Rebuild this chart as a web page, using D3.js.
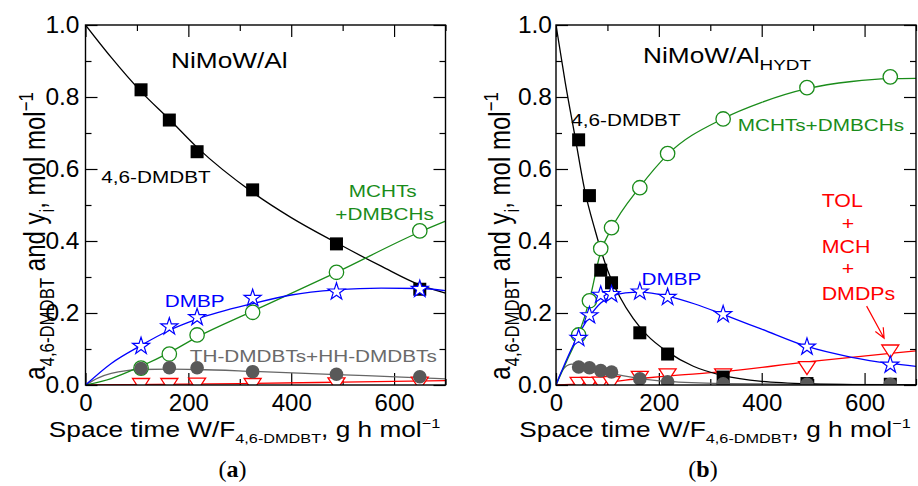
<!DOCTYPE html>
<html><head><meta charset="utf-8">
<script src="https://cdn.jsdelivr.net/npm/d3@7"></script>
<style>body{margin:0;background:#fff}svg{display:block}</style>
</head><body>
<svg id="c" width="918" height="486"></svg>
<script>
// ---------- data ----------
const xMajorTicks = [0, 200, 400, 600];
const xMinorTicks = [100, 300, 500, 700];
const yMajorTicks = [0.0, 0.2, 0.4, 0.6, 0.8, 1.0];
const yMinorTicks = [0.1, 0.3, 0.5, 0.7, 0.9];
const yTickLabels = ["0.0", "0.2", "0.4", "0.6", "0.8", "1.0"];

// panel (a) NiMoW/Al
const spaceTimeA = [108, 163, 217, 325, 488, 650];
const dmdbtA = [0.820, 0.736, 0.648, 0.542, 0.392, 0.266];
const mchtA  = [0.047, 0.086, 0.139, 0.202, 0.313, 0.428];
const dmbpA  = [0.108, 0.162, 0.188, 0.241, 0.259, 0.266];
const thhhA  = [0.046, 0.048, 0.048, 0.037, 0.030, 0.023];
const tolA   = [0.000, 0.000, 0.001, 0.000, 0.002, 0.004];
// fitted curves
const fitDmdbtA = [[0,1],[50,0.91],[108,0.815],[163,0.738],[217,0.66],[325,0.535],[400,0.465],[488,0.395],[575,0.33],[650,0.278],[700,0.255]];
const fitMchtA  = [[0,0],[50,0.018],[108,0.052],[163,0.09],[217,0.133],[325,0.205],[488,0.313],[650,0.425],[700,0.455]];
const fitDmbpA  = [[0,0],[50,0.06],[108,0.11],[163,0.152],[217,0.183],[325,0.226],[400,0.25],[488,0.264],[575,0.269],[650,0.268],[700,0.262]];
const fitThhhA  = [[0,0],[25,0.02],[50,0.032],[80,0.04],[108,0.043],[163,0.044],[217,0.043],[325,0.038],[488,0.029],[650,0.02],[700,0.017]];
const fitTolA   = [[0,0],[300,0.004],[500,0.008],[700,0.012]];

// panel (b) NiMoW/Al_HYDT
const spaceTimeB = [44, 65, 87, 108, 163, 217, 325, 488, 650];
const dmdbtB = [0.681, 0.526, 0.319, 0.284, 0.145, 0.086, 0.022, 0.004, 0.002];
const mchtB  = [0.139, 0.234, 0.379, 0.437, 0.548, 0.643, 0.739, 0.826, 0.856];
const dmbpB  = [0.130, 0.193, 0.250, 0.252, 0.259, 0.244, 0.196, 0.106, 0.056];
const thhhB  = [0.050, 0.048, 0.040, 0.036, 0.017, 0.009, 0.003, 0.002, 0.002];
const tolB   = [0.003, 0.003, 0.004, 0.005, 0.020, 0.027, 0.027, 0.047, 0.093];
const fitDmdbtB = [[0,1],[18,0.84],[37,0.69],[56,0.54],[76,0.43],[100,0.32],[124,0.245],[150,0.185],[176,0.14],[217,0.092],[267,0.052],[325,0.026],[400,0.01],[500,0.003],[600,0.001],[700,0]];
const fitMchtB  = [[0,0],[22,0.07],[44,0.14],[65,0.235],[87,0.37],[108,0.435],[163,0.55],[217,0.64],[325,0.74],[400,0.785],[488,0.823],[575,0.843],[650,0.851],[700,0.852]];
const fitDmbpB  = [[0,0],[22,0.075],[44,0.14],[65,0.19],[87,0.228],[108,0.246],[135,0.256],[163,0.258],[217,0.247],[270,0.225],[325,0.196],[400,0.155],[488,0.107],[575,0.077],[650,0.06],[700,0.052]];
const fitThhhB  = [[0,0],[12,0.04],[30,0.058],[50,0.054],[87,0.04],[108,0.032],[163,0.018],[217,0.01],[325,0.004],[488,0.002],[700,0.001]];
const fitTolB   = [[0,0],[50,0.003],[100,0.008],[163,0.018],[217,0.025],[325,0.037],[488,0.064],[650,0.088],[700,0.095]];

// ---------- styling ----------
const C = {dmdbt:"#000000", mcht:"#1a8c1a", dmbp:"#0000ff", thhh:"#595959", tol:"#ff0000", thText:"#6a6a6a"};
const FONT = "'Liberation Sans', Arial, sans-serif";
const SX = 1.22;

const svg = d3.select("#c");

function rich(g, parts, size) {
  const t = g.append("text").attr("font-family", FONT).attr("font-size", size);
  let shift = 0;
  parts.forEach(p => {
    const target = p.sub ? size*0.3 : p.sup ? -size*0.42 : 0;
    t.append("tspan").attr("dy", target - shift)
      .attr("font-size", p.sub || p.sup ? size*(p.k || 0.7) : size).text(p.t);
    shift = target;
  });
  return t;
}

function label(g, x, y, parts, size, color, anchor, rot) {
  const gg = g.append("g").attr("transform",
    `translate(${x},${y}) scale(${SX},1)` + (rot ? " rotate(-90)" : ""));
  const t = rich(gg, typeof parts === "string" ? [{t:parts}] : parts, size);
  t.attr("fill", color).attr("text-anchor", anchor || "middle");
  return t;
}

function panel(cfg) {
  const x = d3.scaleLinear().domain([0, 700]).range([cfg.left, cfg.left + 360]);
  const y = d3.scaleLinear().domain([0, 1]).range([385, 25]);
  const g = svg.append("g");
  const clipId = "clip" + cfg.id;
  svg.append("clipPath").attr("id", clipId).append("rect")
    .attr("x", x(0)).attr("y", y(1)).attr("width", x(700) - x(0)).attr("height", y(0) - y(1));

  // axes
  const tickStyle = s => { s.select(".domain").remove(); s.selectAll("line").attr("stroke", "#000").attr("stroke-width", 1.2); };
  g.append("g").attr("transform", `translate(0,${y(0)})`)
    .call(d3.axisBottom(x).tickValues(xMajorTicks).tickSize(-12).tickPadding(9).tickFormat(d3.format("d")))
    .call(tickStyle).call(s => s.selectAll("text").attr("font-family", FONT).attr("font-size", 24).attr("fill", "#000"));
  g.append("g").attr("transform", `translate(0,${y(0)})`)
    .call(d3.axisBottom(x).tickValues(xMinorTicks).tickSize(-6).tickFormat("")).call(tickStyle);
  g.append("g").attr("transform", `translate(0,${y(1)})`)
    .call(d3.axisTop(x).tickValues(xMajorTicks).tickSize(-12).tickFormat("")).call(tickStyle);
  g.append("g").attr("transform", `translate(0,${y(1)})`)
    .call(d3.axisTop(x).tickValues(xMinorTicks).tickSize(-6).tickFormat("")).call(tickStyle);
  g.append("g").attr("transform", `translate(${x(0)},0)`)
    .call(d3.axisLeft(y).tickValues(yMajorTicks).tickSize(-12).tickPadding(cfg.yPad).tickFormat((d, i) => yTickLabels[i]))
    .call(tickStyle).call(s => s.selectAll("text").attr("font-family", FONT).attr("font-size", 24.5).attr("fill", "#000"));
  g.append("g").attr("transform", `translate(${x(0)},0)`)
    .call(d3.axisLeft(y).tickValues(yMinorTicks).tickSize(-6).tickFormat("")).call(tickStyle);
  g.append("g").attr("transform", `translate(${x(700)},0)`)
    .call(d3.axisRight(y).tickValues(yMajorTicks).tickSize(-12).tickFormat("")).call(tickStyle);
  g.append("g").attr("transform", `translate(${x(700)},0)`)
    .call(d3.axisRight(y).tickValues(yMinorTicks).tickSize(-6).tickFormat("")).call(tickStyle);

  // curves
  const line = d3.line().x(d => x(d[0])).y(d => y(d[1])).curve(d3.curveMonotoneX);
  const lg = g.append("g").attr("clip-path", `url(#${clipId})`).attr("fill", "none").attr("stroke-width", 1.3);
  [[cfg.fitTol, C.tol], [cfg.fitThhh, "#666"], [cfg.fitDmdbt, C.dmdbt], [cfg.fitMcht, C.mcht], [cfg.fitDmbp, C.dmbp]]
    .forEach(([d, c]) => lg.append("path").attr("d", line(d)).attr("stroke", c));

  // markers
  const mg = g.append("g").attr("clip-path", `url(#${clipId})`);
  const st = cfg.st;
  const tri = "M-8.5,-6.5L8.5,-6.5L0,6.5Z";
  mg.selectAll(".tri").data(cfg.tol).join("path")
    .attr("d", tri).attr("transform", (d, i) => `translate(${x(st[i])},${y(d)})`)
    .attr("fill", "#fff").attr("stroke", C.tol).attr("stroke-width", 1.3);
  mg.selectAll(".sq").data(cfg.dmdbt).join("rect")
    .attr("x", (d, i) => x(st[i]) - 6.5).attr("y", d => y(d) - 6.5)
    .attr("width", 13).attr("height", 13).attr("fill", C.dmdbt);
  mg.selectAll(".oc").data(cfg.mcht).join("circle")
    .attr("cx", (d, i) => x(st[i])).attr("cy", d => y(d)).attr("r", 7.2)
    .attr("fill", "#fff").attr("stroke", C.mcht).attr("stroke-width", 1.3);
  const star = d3.symbol().type(d3.symbolStar).size(90);
  mg.selectAll(".st").data(cfg.dmbp).join("path")
    .attr("d", star).attr("transform", (d, i) => `translate(${x(st[i])},${y(d)})`)
    .attr("fill", "#fff").attr("stroke", C.dmbp).attr("stroke-width", 1.2);
  mg.selectAll(".gc").data(cfg.thhh).join("circle")
    .attr("cx", (d, i) => x(st[i])).attr("cy", d => y(d)).attr("r", 6.8)
    .attr("fill", C.thhh);

  // frame
  g.append("rect").attr("x", x(0)).attr("y", y(1)).attr("width", x(700) - x(0)).attr("height", y(0) - y(1))
    .attr("fill", "none").attr("stroke", "#000").attr("stroke-width", 1.4);

  // axis titles
  label(g, x(0) - 21 + 180, 437,
    [{t:"Space time W/F"}, {t:"4,6-DMDBT", sub:true, k:0.62}, {t:", g h mol"}, {t:"\u22121", sup:true, k:0.62}], 21.5, "#000");
  label(g, x(0) + cfg.yTitleOff, 236,
    [{t:"a"}, {t:"4,6-DMDBT", sub:true}, {t:" and y"}, {t:"i", sub:true}, {t:", mol mol"}, {t:"\u22121", sup:true}], 24, "#000", "middle", true);

  // panel letter
  const pl = g.append("text").attr("x", x(0) + 147).attr("y", 477).attr("text-anchor", "middle")
    .attr("font-family", "'Liberation Serif', 'Times New Roman', serif").attr("font-size", 24);
  pl.append("tspan").text("(");
  pl.append("tspan").attr("font-weight", "bold").text(cfg.letter);
  pl.append("tspan").text(")");

  cfg.labels(g, x, y);
}

panel({
  id: "a", left: 85.5, yPad: 6, yTitleOff: -40.5, letter: "a",
  st: spaceTimeA, dmdbt: dmdbtA, mcht: mchtA, dmbp: dmbpA, thhh: thhhA, tol: tolA,
  fitDmdbt: fitDmdbtA, fitMcht: fitMchtA, fitDmbp: fitDmbpA, fitThhh: fitThhhA, fitTol: fitTolA,
  labels: (g, x, y) => {
    label(g, x(279.6), y(0.881), "NiMoW/Al", 21.5, "#000");
    label(g, x(137), y(0.562), "4,6-DMDBT", 17, "#000");
    label(g, x(578), y(0.523), "MCHTs", 17, C.mcht);
    label(g, x(581.5), y(0.458), "+DMBCHs", 17, C.mcht);
    label(g, x(212.4), y(0.216), "DMBP", 17, C.dmbp);
    label(g, x(443), y(0.065), "TH-DMDBTs+HH-DMDBTs", 17, C.thText);
  }
});

panel({
  id: "b", left: 556, yPad: 4, yTitleOff: -46, letter: "b",
  st: spaceTimeB, dmdbt: dmdbtB, mcht: mchtB, dmbp: dmbpB, thhh: thhhB, tol: tolB,
  fitDmdbt: fitDmdbtB, fitMcht: fitMchtB, fitDmbp: fitDmbpB, fitThhh: fitThhhB, fitTol: fitTolB,
  labels: (g, x, y) => {
    label(g, x(332.5), y(0.894), [{t:"NiMoW/Al"}, {t:"HYDT", sub:true, k:0.72}], 21.5, "#000");
    label(g, x(135.9), y(0.719), "4,6-DMDBT", 17, "#000");
    label(g, x(515), y(0.706), "MCHTs+DMBCHs", 17, C.mcht);
    label(g, x(224.3), y(0.278), "DMBP", 17, C.dmbp);
    label(g, x(516.6), y(0.495), "TOL", 17.5, C.tol, "start");
    label(g, x(567.7), y(0.431), "+", 17.5, C.tol);
    label(g, x(516.6), y(0.366), "MCH", 17.5, C.tol, "start");
    label(g, x(567.7), y(0.306), "+", 17.5, C.tol);
    label(g, x(516.6), y(0.236), "DMDPs", 17.5, C.tol, "start");
    // arrow
    const x1 = x(604), y1 = y(0.219), x2 = x(638), y2 = y(0.130);
    const ang = Math.atan2(y2 - y1, x2 - x1), L = 11, a = 0.42;
    g.append("path").attr("fill", "none").attr("stroke", C.tol).attr("stroke-width", 1.2)
      .attr("d", `M${x1},${y1}L${x2},${y2}M${x2 - L*Math.cos(ang - a)},${y2 - L*Math.sin(ang - a)}L${x2},${y2}L${x2 - L*Math.cos(ang + a)},${y2 - L*Math.sin(ang + a)}`);
  }
});
</script>
</body></html>
